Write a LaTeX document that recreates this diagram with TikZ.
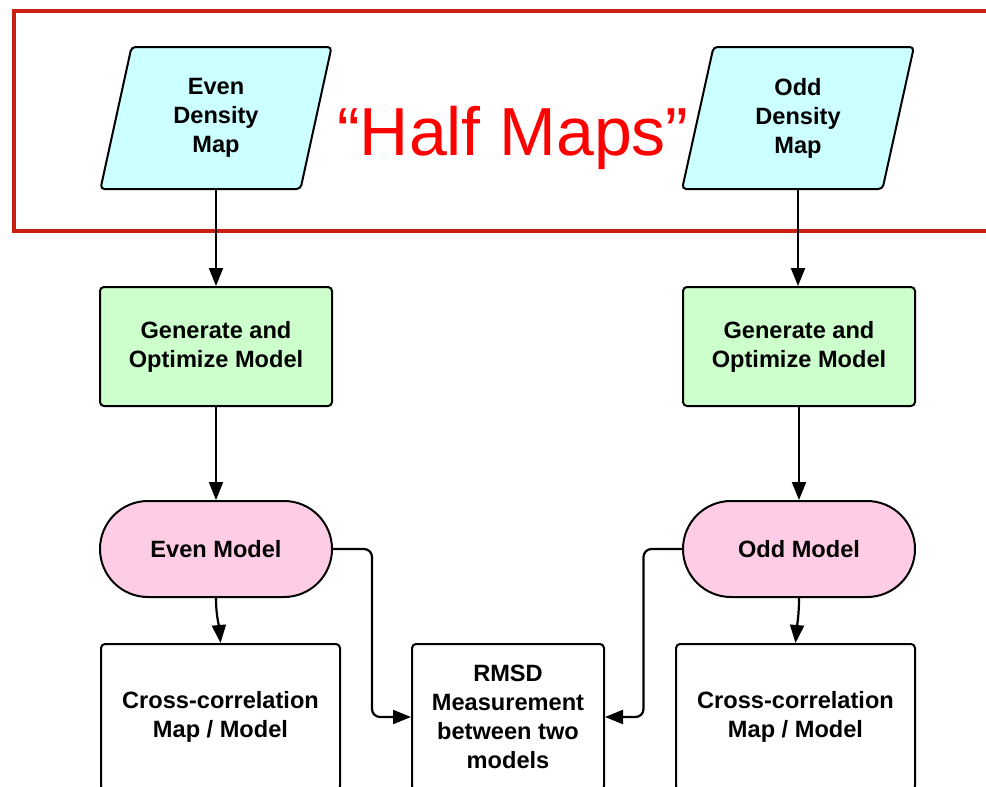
\documentclass[tikz,border=0pt]{standalone}
\usepackage{fontspec}
\setmainfont{Liberation Sans}
\usepackage{tikz}
\usetikzlibrary{arrows.meta,positioning,shapes.geometric,calc}
\definecolor{mapcyan}{HTML}{CCFFFF}
\definecolor{modelgreen}{HTML}{CCFFCC}
\definecolor{modelpink}{HTML}{FFCCE6}
\definecolor{framered}{HTML}{CC1F14}
\definecolor{titlered}{HTML}{FF0000}

\begin{document}
\begin{tikzpicture}[x=0.5pt,y=-0.5pt,
    every node/.style={font=\fontsize{11.8}{14.5}\selectfont\bfseries, align=center, line width=1pt},
    mapbox/.style={draw, fill=mapcyan, trapezium, trapezium left angle=78.8, trapezium right angle=101.2,
      trapezium stretches=true, minimum width=116pt, minimum height=71pt, inner sep=0pt, rounded corners=2pt},
    optbox/.style={draw, fill=modelgreen, rectangle, rounded corners=2pt, minimum width=116pt, minimum height=59.5pt},
    modelbox/.style={draw, fill=modelpink, rectangle, rounded corners=24pt, minimum width=116pt, minimum height=48pt},
    resultbox/.style={draw, fill=white, rectangle, rounded corners=2pt, minimum height=73pt},
    link/.style={line width=1.1pt, -{Triangle[length=9pt,width=7pt]}}]
    \clip (0,0) rectangle (986,787);
    \useasboundingbox (0,0) rectangle (986,787);
    \draw[framered, line width=2pt] (13.5,10.5) rectangle (1000,231);
    \node[font=\fontsize{34}{40}\selectfont, text=titlered] (halfmaps) at (513,138) {“Half Maps”};
    \node[mapbox] (evenmap) at (216,118) {Even\\Density\\Map};
    \node[mapbox] (oddmap) at (798,118) {Odd\\Density\\Map};
    \node[optbox] (evenopt) at (216,346.5) {Generate and\\Optimize Model};
    \node[optbox] (oddopt) at (799,346.5) {Generate and\\Optimize Model};
    \node[modelbox] (evenmodel) at (216,549) {Even Model};
    \node[modelbox] (oddmodel) at (799,549) {Odd Model};
    \node[resultbox, minimum width=119.5pt] (evencc) at (220.5,717) {Cross-correlation\\Map / Model};
    \node[resultbox, minimum width=96pt] (rmsd) at (508,717) {RMSD\\Measurement\\between two\\models};
    \node[resultbox, minimum width=119.5pt] (oddcc) at (795.5,717) {Cross-correlation\\Map / Model};
    \draw[link] (evenmap) -- (evenopt);
    \draw[link] (oddmap.south) -- (oddopt.north -| oddmap.south);
    \draw[link] (evenopt) -- (evenmodel);
    \draw[link] (oddopt) -- (oddmodel);
    \draw[link] (evenmodel.south) to[out=-90,in=95] (evencc.north);
    \draw[link] (oddmodel.south) to[out=-90,in=85] (oddcc.north);
    \draw[link, rounded corners=4pt] (evenmodel.east) -| ($(evenmodel.east)!0.5!(rmsd.west)$) |- (rmsd.west);
    \draw[link, rounded corners=4pt] (oddmodel.west) -| ($(oddmodel.west)!0.5!(rmsd.east)$) |- (rmsd.east);
\end{tikzpicture}
\end{document}
